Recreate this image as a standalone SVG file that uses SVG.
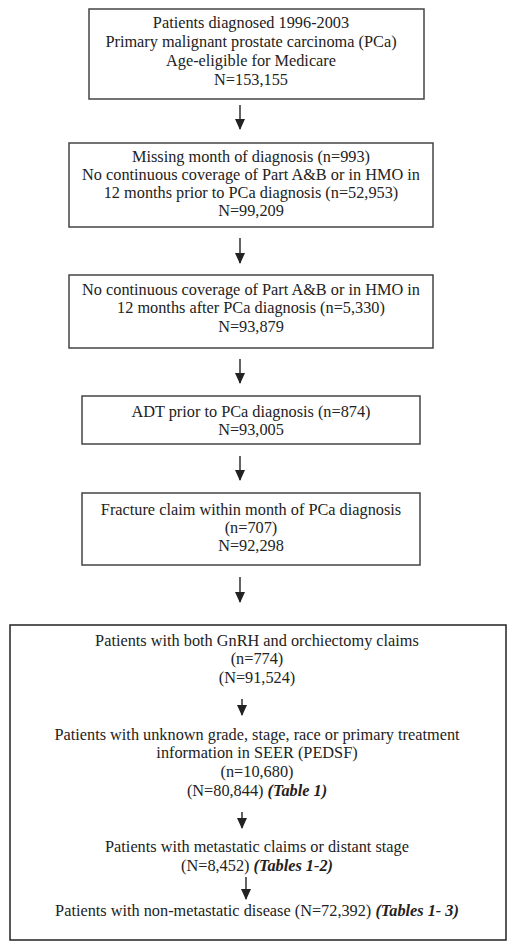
<svg xmlns="http://www.w3.org/2000/svg" width="515" height="950" viewBox="0 0 515 950">
<defs>
<style>
.box{fill:#fff;stroke:#444;stroke-width:1.5}
.outer{fill:#fff;stroke:#222;stroke-width:1.5}
text{font-family:"Liberation Serif","Times New Roman",serif;font-size:16.3px;fill:#222;text-anchor:middle}
.b{font-weight:bold;font-style:italic}
.arr{stroke:#222;stroke-width:1.4;fill:none;marker-end:url(#ah)}
</style>
<marker id="ah" markerUnits="userSpaceOnUse" markerWidth="12" markerHeight="10" viewBox="0 0 11 10" refX="10" refY="5" orient="auto">
<path d="M0,0 L11,5 L0,10 Z" fill="#222"/>
</marker>
</defs>
<rect width="515" height="950" fill="#fff"/>
<g id="n1">
<rect class="box" x="89" y="9" width="335" height="90"/>
<text x="251" y="28">Patients diagnosed 1996-2003</text>
<text x="251" y="47">Primary malignant prostate carcinoma (PCa)</text>
<text x="251" y="66">Age-eligible for Medicare</text>
<text x="251" y="85">N=153,155</text>
</g>
<g id="n2">
<rect class="box" x="69" y="143" width="364" height="84"/>
<text x="251" y="162">Missing month of diagnosis (n=993)</text>
<text x="251" y="180">No continuous coverage of Part A&amp;B or in HMO in</text>
<text x="251" y="198">12 months prior to PCa diagnosis (n=52,953)</text>
<text x="251" y="216">N=99,209</text>
</g>
<g id="n3">
<rect class="box" x="69" y="275" width="364" height="73"/>
<text x="251" y="295">No continuous coverage of Part A&amp;B or in HMO in</text>
<text x="251" y="313">12 months after PCa diagnosis (n=5,330)</text>
<text x="251" y="332">N=93,879</text>
</g>
<g id="n4">
<rect class="box" x="82" y="396" width="338" height="48"/>
<text x="251" y="417">ADT prior to PCa diagnosis (n=874)</text>
<text x="251" y="435">N=93,005</text>
</g>
<g id="n5">
<rect class="box" x="82" y="493" width="338" height="72"/>
<text x="251" y="515">Fracture claim within month of PCa diagnosis</text>
<text x="251" y="533">(n=707)</text>
<text x="251" y="551">N=92,298</text>
</g>
<g id="n6">
<rect class="outer" x="10" y="625" width="496" height="315"/>
<text x="257" y="646">Patients with both GnRH and orchiectomy claims</text>
<text x="257" y="664">(n=774)</text>
<text x="257" y="683">(N=91,524)</text>
<text x="257" y="740">Patients with unknown grade, stage, race or primary treatment</text>
<text x="257" y="758">information in SEER (PEDSF)</text>
<text x="257" y="777">(n=10,680)</text>
<text x="257" y="796">(N=80,844) <tspan class="b">(Table 1)</tspan></text>
<text x="257" y="852">Patients with metastatic claims or distant stage</text>
<text x="257" y="871">(N=8,452) <tspan class="b">(Tables 1-2)</tspan></text>
<text x="257" y="916">Patients with non-metastatic disease (N=72,392) <tspan class="b">(Tables 1- 3)</tspan></text>
</g>
<g id="connectors">
<line class="arr" x1="240" y1="105" x2="240" y2="129"/>
<line class="arr" x1="240" y1="238" x2="240" y2="263"/>
<line class="arr" x1="240" y1="359" x2="240" y2="383"/>
<line class="arr" x1="240" y1="456" x2="240" y2="480"/>
<line class="arr" x1="240" y1="577" x2="240" y2="602"/>
<line class="arr" x1="242" y1="699" x2="242" y2="715"/>
<line class="arr" x1="242" y1="812" x2="242" y2="828"/>
<line class="arr" x1="246" y1="877" x2="246" y2="899"/>
</g>
</svg>
